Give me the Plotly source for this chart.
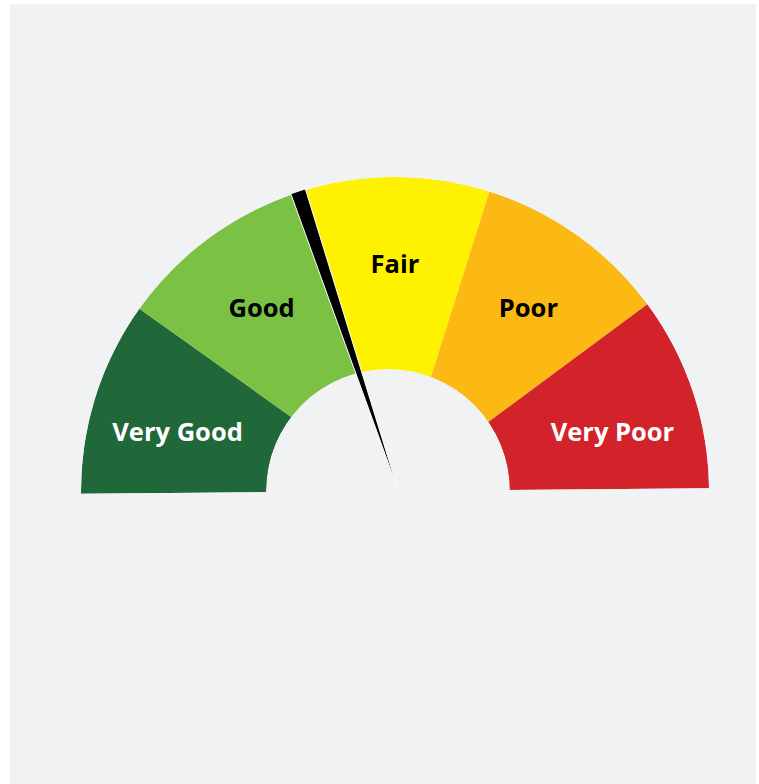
import math
import plotly.graph_objects as go

# ---- data ----
categories = ["Very Good", "Good", "Fair", "Poor", "Very Poor"]
band_edges = [0, 20, 40, 60, 80, 100]          # score scale (0 = best, 100 = worst)
band_colors = ["#20673a", "#7bc144", "#fff200", "#fdb913", "#d2232a"]
label_colors = ["white", "black", "black", "black", "white"]
needle_value = 40.0

# ---- styling ----
W, H = 759, 784
BG = "#f1f2f4"
DEG_PER_UNIT = 180.0 / 100.0
TILT = 0.5
NEEDLE_WIDTH_DEG = 2.8
LABEL_R = 0.715
LABEL_PUSH = 9.6e-6     # pushes the outer labels slightly toward the horizontal

lo = band_edges[:-1]
hi = band_edges[1:]
mid_theta = [(a + b) / 2 * DEG_PER_UNIT for a, b in zip(lo, hi)]
width_theta = [(b - a) * DEG_PER_UNIT for a, b in zip(lo, hi)]

fig = go.Figure()

# coloured bands (full wedges; the centre is covered by the hole disc)
fig.add_trace(go.Barpolar(
    theta=mid_theta, r=[1] * len(categories), base=[0] * len(categories),
    width=width_theta,
    marker=dict(color=band_colors, line=dict(width=0)),
    hoverinfo="skip", showlegend=False, subplot="polar",
))

# labels
label_theta = []
for t in mid_theta:
    d = (180 - t) - 90
    g = 90 + d + LABEL_PUSH * d ** 3
    label_theta.append(180 + TILT - g)
fig.add_trace(go.Scatterpolar(
    theta=label_theta, r=[LABEL_R] * len(categories),
    mode="text", text=categories,
    textfont=dict(family="Open Sans", size=25.5, color=label_colors, weight="bold"),
    hoverinfo="skip", showlegend=False, subplot="polar",
))

# hole disc (full circle, background coloured)
fig.add_trace(go.Barpolar(
    theta=[180], r=[1], base=[0], width=[360],
    marker=dict(color=BG, line=dict(width=0)),
    hoverinfo="skip", showlegend=False, subplot="polar2",
))

# needle
fig.add_trace(go.Barpolar(
    theta=[needle_value * DEG_PER_UNIT], r=[1.0], base=[0],
    width=[NEEDLE_WIDTH_DEG],
    marker=dict(color="black", line=dict(color="white", width=1.0)),
    hoverinfo="skip", showlegend=False, subplot="polar3",
))


def half_box(cx, cy, r):
    drop = r * math.sin(math.radians(TILT))
    return dict(x=[(cx - r) / W, (cx + r) / W],
                y=[1 - (cy + drop) / H, 1 - (cy - r) / H])


def full_box(cx, cy, r):
    return dict(x=[(cx - r) / W, (cx + r) / W],
                y=[1 - (cy + r) / H, 1 - (cy - r) / H])


def polar_cfg(domain, sector):
    return dict(
        domain=domain,
        sector=sector,
        bgcolor="rgba(0,0,0,0)",
        bargap=0,
        radialaxis=dict(visible=False, range=[0, 1]),
        angularaxis=dict(visible=False, direction="clockwise", rotation=180 + TILT),
    )


fig.update_layout(
    width=W, height=H,
    margin=dict(l=0, r=0, t=0, b=0),
    paper_bgcolor="white",
    shapes=[dict(type="rect", xref="paper", yref="paper",
                 x0=10 / W, x1=756 / W, y0=0, y1=1 - 4 / H,
                 fillcolor=BG, line=dict(width=0), layer="below")],
    polar=polar_cfg(half_box(395, 491, 314), [TILT, 180 + TILT]),
    polar2=polar_cfg(full_box(388, 491, 122), [0, 360]),
    polar3=polar_cfg(half_box(398, 490, 315), [TILT, 180 + TILT]),
)

fig.write_html(
    "out.html",
    config={"displayModeBar": False},
    post_script="document.body.style.margin='0px';document.body.style.overflow='hidden';",
)
